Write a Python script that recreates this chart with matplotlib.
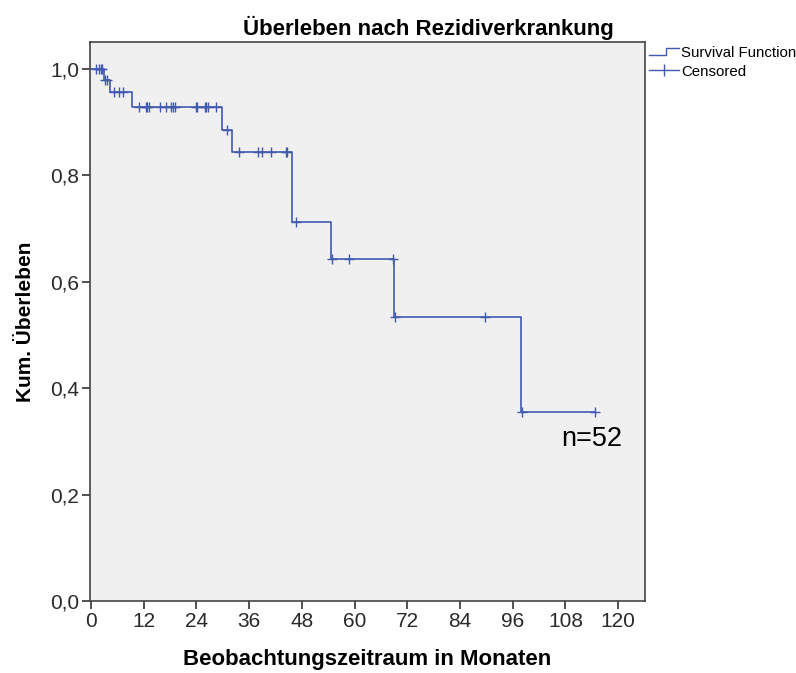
import matplotlib.pyplot as plt
import numpy as np
from matplotlib.lines import Line2D
from matplotlib.legend_handler import HandlerBase

plt.rcParams['font.family'] = ['Liberation Sans', 'DejaVu Sans']

# Kaplan-Meier steps: event times (months) and survival level after each step
event_times = [2.9, 4.3, 9.4, 29.9, 32.2, 45.7, 54.7, 68.9, 97.9]
surv_levels = [1.0, 0.979, 0.956, 0.929, 0.886, 0.843, 0.713, 0.642, 0.534, 0.356]
last_followup = 114.8

# censored observations (months)
censored = [1.2, 1.7, 2.2, 2.6,
            3.2, 3.7,
            5.3, 6.3, 7.3,
            11.0, 12.5, 12.8, 13.3, 15.6, 17.1, 18.3, 18.6, 19.0,
            24.0, 24.2, 25.9, 26.2, 26.6, 28.4,
            30.9,
            33.6, 37.9, 38.9, 40.9, 44.3, 44.6,
            46.6,
            54.8, 58.8, 68.7,
            69.2, 89.7,
            98.0, 114.8]

x_ticks = [0, 12, 24, 36, 48, 60, 72, 84, 96, 108, 120]
y_ticks = [0.0, 0.2, 0.4, 0.6, 0.8, 1.0]

blue = '#4259ae'

fig = plt.figure(figsize=(7.96, 6.73), dpi=100)
ax = fig.add_axes([0.1131, 0.107, 0.6972, 0.831])
ax.set_facecolor('#f0f0f0')

# step curve
xs = [0.0] + event_times + [last_followup]
ys = surv_levels + [surv_levels[-1]]
ax.step(xs, ys, where='post', color=blue, lw=1.2)

# censored marks sit on the curve
idx = np.searchsorted(event_times, censored, side='right')
cy = np.array(surv_levels)[idx]
ax.plot(censored, cy, ls='none', marker='+', ms=7.5, mew=1.0, color=blue)

ax.set_xlim(-0.23, 126.1)
ax.set_ylim(0, 1.051)
ax.set_xticks(x_ticks)
ax.set_yticks(y_ticks)
ax.set_yticklabels([f'{v:.1f}'.replace('.', ',') for v in y_ticks])
ax.tick_params(axis='both', direction='out', length=6, width=1.2,
               color='#333333', labelsize=15, labelcolor='#2a2a2a', pad=2)

for s in ax.spines.values():
    s.set_color('#444444')
    s.set_linewidth(1.2)

ax.set_xlabel('Beobachtungszeitraum in Monaten', fontsize=16, fontweight='bold',
              labelpad=13)
ax.set_ylabel('Kum. Überleben', fontsize=15, fontweight='bold', labelpad=11)
fig.text(428 / 796, 1 - 28 / 673, 'Überleben nach Rezidiverkrankung',
         ha='center', va='center', fontsize=16, fontweight='bold')

ax.text(113.9, 0.305, 'n=52', ha='center', va='center', fontsize=19.5)


class StepHandler(HandlerBase):
    def create_artists(self, legend, orig_handle, xdescent, ydescent,
                       width, height, fontsize, trans):
        x0, x1 = -xdescent, -xdescent + width
        xm = x0 + 0.55 * width
        ln = Line2D([x0, xm, xm, x1],
                    [0.2 * height, 0.2 * height, 0.85 * height, 0.85 * height],
                    color=blue, lw=1.0)
        ln.set_transform(trans)
        return [ln]


h_surv = Line2D([], [], color=blue)
h_cens = Line2D([], [], color=blue, lw=1.0, marker='|', ms=9, mew=1.0)
fig.legend([h_surv, h_cens], ['Survival Function', 'Censored'],
           handler_map={h_surv: StepHandler()},
           loc='upper left', bbox_to_anchor=(649 / 796, 1 - 46 / 673),
           frameon=False, fontsize=10.8, handlelength=2.0, handletextpad=0.15,
           borderpad=0, borderaxespad=0, labelspacing=0.3)

fig.savefig('out.png', dpi=100)
